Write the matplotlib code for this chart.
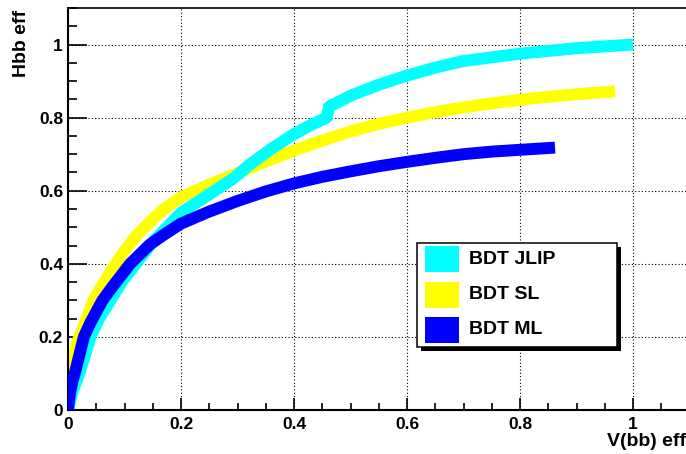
import matplotlib
matplotlib.use('Agg')
import matplotlib.pyplot as plt
from matplotlib.patches import Rectangle
from matplotlib.ticker import MultipleLocator, FuncFormatter

plt.rcParams['font.family'] = ['Liberation Sans', 'DejaVu Sans']
plt.rcParams['font.weight'] = 'bold'

# ---- data ----
series_names = ['BDT JLIP', 'BDT SL', 'BDT ML']
series_colors = ['#00FFFF', '#FFFF00', '#0000FF']

jlip_x = [0, 0.004, 0.008, 0.014, 0.02, 0.03, 0.04, 0.055, 0.075, 0.095, 0.12, 0.15, 0.175, 0.2,
          0.25, 0.292, 0.322, 0.36, 0.40, 0.43, 0.458, 0.462, 0.5, 0.55, 0.6, 0.65, 0.7, 0.8, 0.9, 1.0]
jlip_y = [0, 0.025, 0.05, 0.075, 0.1, 0.15, 0.2, 0.25, 0.3, 0.35, 0.4, 0.46, 0.5, 0.54,
          0.59, 0.633, 0.672, 0.715, 0.755, 0.78, 0.80, 0.83, 0.86, 0.89, 0.915, 0.937, 0.955, 0.975, 0.99, 1.0]

sl_x = [0, 0.001, 0.003, 0.008, 0.015, 0.025, 0.035, 0.045, 0.06, 0.08, 0.1, 0.12, 0.145, 0.17,
        0.2, 0.25, 0.3, 0.35, 0.4, 0.45, 0.5, 0.55, 0.6, 0.65, 0.7, 0.75, 0.8, 0.85, 0.9, 0.968]
sl_y = [0, 0.05, 0.1, 0.14, 0.18, 0.22, 0.26, 0.3, 0.34, 0.39, 0.435, 0.475, 0.515, 0.55,
        0.582, 0.617, 0.648, 0.68, 0.71, 0.737, 0.762, 0.783, 0.80, 0.815, 0.828, 0.839, 0.849, 0.857, 0.864, 0.872]

ml_x = [0, 0.002, 0.004, 0.008, 0.012, 0.02, 0.028, 0.04, 0.061, 0.08, 0.11, 0.145, 0.17, 0.2,
        0.25, 0.3, 0.35, 0.4, 0.45, 0.5, 0.55, 0.6, 0.65, 0.7, 0.75, 0.8, 0.862]
ml_y = [0, 0.03, 0.05, 0.08, 0.1, 0.15, 0.2, 0.24, 0.3, 0.34, 0.4, 0.453, 0.48, 0.51,
        0.543, 0.572, 0.598, 0.62, 0.638, 0.653, 0.667, 0.679, 0.69, 0.70, 0.707, 0.712, 0.718]

x_label = 'V(bb) eff'
y_label = 'Hbb eff'

W, H = 686, 454
fig = plt.figure(figsize=(W / 100, H / 100), dpi=100)
ax = fig.add_axes([68 / W, 44 / H, 621.5 / W, 402 / H])
ax.set_xlim(0, 1.1)
ax.set_ylim(0, 1.1)

# draw order: SL, JLIP, ML
data = {'BDT JLIP': (jlip_x, jlip_y), 'BDT SL': (sl_x, sl_y), 'BDT ML': (ml_x, ml_y)}
col = dict(zip(series_names, series_colors))
for name, z in [('BDT SL', 2), ('BDT JLIP', 3), ('BDT ML', 4)]:
    xs, ys = data[name]
    ax.plot(xs, ys, color=col[name], lw=8.6, solid_capstyle='butt',
            solid_joinstyle='round', zorder=z)

ax.xaxis.set_major_locator(MultipleLocator(0.2))
ax.xaxis.set_minor_locator(MultipleLocator(0.05))
ax.yaxis.set_major_locator(MultipleLocator(0.2))
ax.yaxis.set_minor_locator(MultipleLocator(0.05))
fmt = FuncFormatter(lambda v, p: '%g' % round(v, 3))
ax.xaxis.set_major_formatter(fmt)
ax.yaxis.set_major_formatter(fmt)

ax.tick_params(which='both', direction='in', top=False, right=False,
               labelsize=12.5, width=1.2, color='black')
ax.tick_params(axis='x', which='major', length=8.7, pad=5)
ax.tick_params(axis='x', which='minor', length=4.7)
ax.tick_params(axis='y', which='major', length=13.4, pad=3.6)
ax.tick_params(axis='y', which='minor', length=6.7)

ax.grid(True, which='major', color='black', linestyle=(0, (1, 2)), linewidth=0.8)
ax.set_axisbelow(True)
for s in ['left', 'bottom']:
    ax.spines[s].set_linewidth(1.5)
ax.spines['top'].set_linewidth(1.2)
ax.spines['right'].set_visible(False)

fig.text(686 / W, 1 - 442 / H, x_label, ha='right', va='center', fontsize=14, fontweight='bold')
fig.text(22 / W, 1 - 10 / H, y_label, ha='center', va='top', rotation=90, fontsize=14, fontweight='bold')

# ---- legend box (ROOT style with shadow) ----
def fx(px):
    return px / W

def fy(py):
    return 1 - py / H

bx0, bx1, by0, by1 = 417, 617, 243, 347
fig.add_artist(Rectangle((fx(bx0 + 4), fy(by1 + 4)), (bx1 - bx0) / W, (by1 - by0) / H,
                         transform=fig.transFigure, facecolor='black', edgecolor='none', zorder=10))
fig.add_artist(Rectangle((fx(bx0), fy(by1)), (bx1 - bx0) / W, (by1 - by0) / H,
                         transform=fig.transFigure, facecolor='white', edgecolor='black',
                         linewidth=1.1, zorder=11))
row_centers = [259, 294.5, 330]
for name, c, rc in zip(series_names, series_colors, row_centers):
    fig.add_artist(Rectangle((fx(425), fy(rc + 13)), 34 / W, 26 / H, transform=fig.transFigure,
                             facecolor=c, edgecolor='none', zorder=12))
    fig.text(fx(469), fy(rc), name, ha='left', va='center', fontsize=14,
             fontweight='bold', zorder=13)

fig.savefig('out.png', dpi=100)
